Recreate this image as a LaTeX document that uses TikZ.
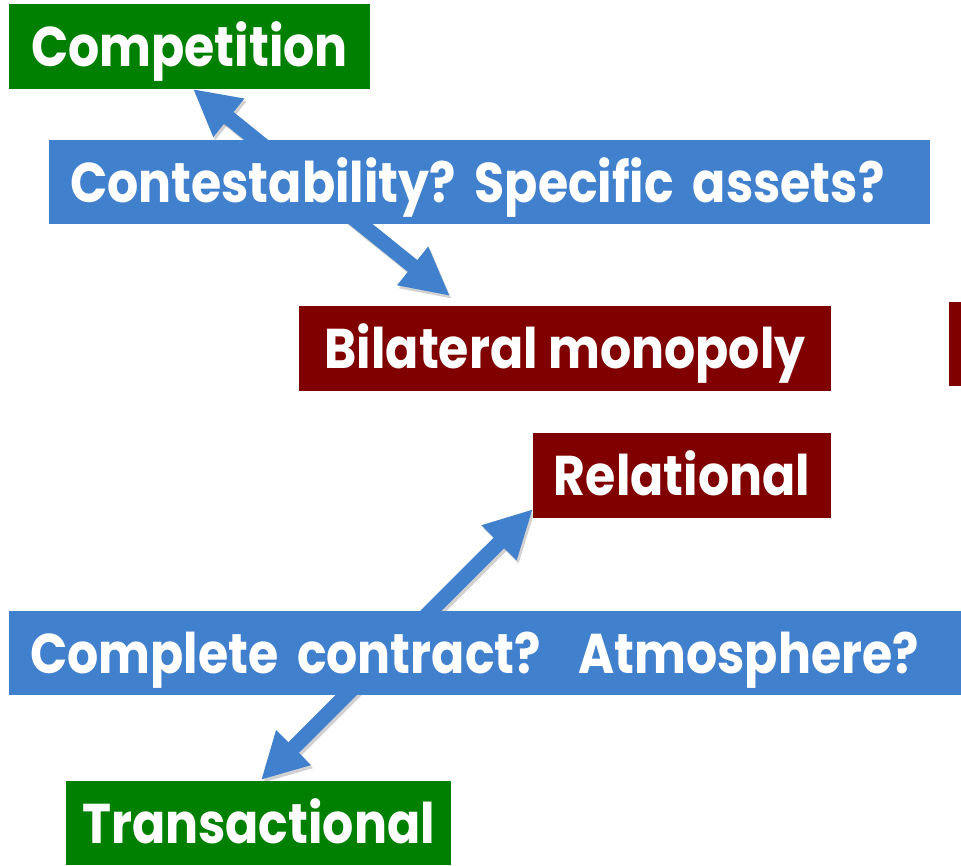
\documentclass[tikz,border=0pt]{standalone}
\usepackage{fontspec}
\setmainfont{Poppins}[BoldFeatures={FakeStretch=0.875}]
\usetikzlibrary{arrows.meta}
\definecolor{bandblue}{RGB}{65,128,205}
\definecolor{boxgreen}{RGB}{0,128,0}
\definecolor{boxred}{RGB}{128,0,0}
\tikzset{
  lbl/.style={inner sep=0pt, outer sep=0pt, text=white,
    font=\fontsize{56}{60}\selectfont\bfseries\frenchspacing, text height=40pt, text depth=0pt},
  greenbox/.style={lbl, fill=boxgreen},
  redbox/.style={lbl, fill=boxred},
  bandbox/.style={lbl, fill=bandblue, anchor=north west, align=left, inner xsep=21pt},
  bigarrow/.style={draw=bandblue, line width=15pt,
    {Triangle[length=46pt,width=46pt]}-{Triangle[length=48pt,width=46pt]}},
  arrowshadow/.style={draw=black, opacity=0.18, line width=15pt,
    {Triangle[length=46pt,width=46pt]}-{Triangle[length=48pt,width=46pt]},
    transform canvas={shift={(2pt,-3pt)}}}
}
\begin{document}
\begin{tikzpicture}[x=1pt,y=-1pt]
\useasboundingbox (0,0) rectangle (961,865);
% anchor points for the arrows
\coordinate (c1) at (193,89);
\coordinate (c2) at (450,296);
\coordinate (c3) at (533,509);
\coordinate (c4) at (261,780);
% arrows (behind boxes)
\draw[arrowshadow] (c1) -- (c2);
\draw[arrowshadow] (c4) -- (c3);
\draw[bigarrow] (c1) -- (c2);
\draw[bigarrow] (c4) -- (c3);
% boxes
\node[greenbox, minimum width=361pt, minimum height=85pt] (comp) at (189.5,46.5) {Competition};
\node[bandbox, text width=839pt, minimum height=84pt] (band1) at (49,140) {\mbox{Contestability? Specific assets?}};
\node[redbox, minimum width=532pt, minimum height=85pt] (bil) at (565,348.5) {Bilateral monopoly};
\node[redbox, minimum width=12pt, minimum height=84pt, text height=0pt] (edge) at (955,344) {};
\node[redbox, minimum width=298pt, minimum height=85pt] (rel) at (682,475.5) {Relational};
\node[bandbox, text width=910pt, minimum height=84pt] (band2) at (9,611) {\mbox{Complete contract?\ \ Atmosphere?}};
\node[greenbox, minimum width=385pt, minimum height=84pt] (trans) at (258.5,823) {Transactional};
\end{tikzpicture}
\end{document}
